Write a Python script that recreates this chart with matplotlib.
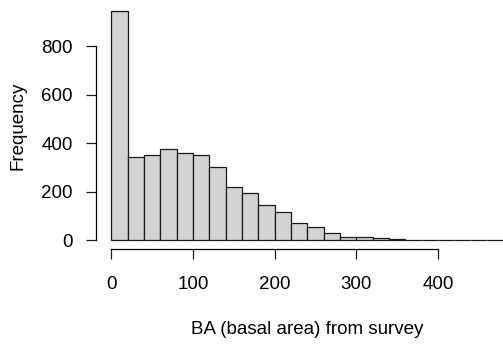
import matplotlib
matplotlib.use("Agg")
import matplotlib.pyplot as plt

plt.rcParams['font.family'] = ['Liberation Sans', 'DejaVu Sans']

# histogram of BA, bins of width 20
bin_edges = list(range(0, 500, 20))
counts = [945, 341, 352, 374, 360, 349, 301, 220, 195, 144, 117, 70,
          52, 27, 14, 14, 10, 3, 1, 0, 0, 1, 0, 0]
x_ticks = [0, 100, 200, 300, 400]
y_ticks = [0, 200, 400, 600, 800]

W, H = 503, 347
fig = plt.figure(figsize=(W / 100, H / 100), dpi=100)
# plot region in pixels (R style, 4% padding); right side runs past the crop
left, right, top, bottom = 95.8, 519, 1.7, 249.2
ax = fig.add_axes([left / W, 1 - bottom / H, (right - left) / W, (bottom - top) / H])

ax.bar(bin_edges[:-1], counts, width=20, align='edge',
       color='#d3d3d3', edgecolor='#1a1a1a', linewidth=0.9)

ax.set_xlim(-19.2, 499.2)
ax.set_ylim(-37.8, 982.8)

for s in ['top', 'right']:
    ax.spines[s].set_visible(False)
ax.spines['left'].set_bounds(0, 800)
ax.spines['bottom'].set_bounds(0, 400)
for s in ['left', 'bottom']:
    ax.spines[s].set_linewidth(0.9)

ax.set_xticks(x_ticks)
ax.set_yticks(y_ticks)
ax.tick_params(direction='out', length=7.5, width=0.9, labelsize=13.5, color='#1a1a1a')
ax.tick_params(axis='y', pad=9)
ax.tick_params(axis='x', pad=12)

ax.set_xlabel('BA (basal area) from survey', fontsize=13.5, labelpad=20)
ax.set_ylabel('Frequency', fontsize=13.5, labelpad=10.5)

fig.savefig('out.png', dpi=100)
